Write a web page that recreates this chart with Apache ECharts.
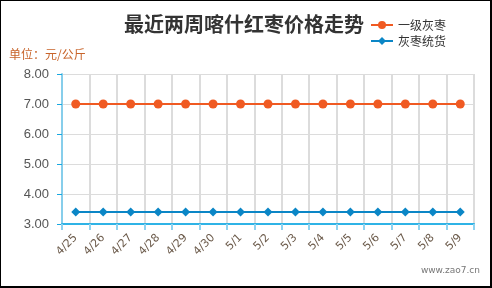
<!DOCTYPE html>
<html><head><meta charset="utf-8">
<script src="https://cdn.jsdelivr.net/npm/echarts@6/dist/echarts.min.js"></script>
<style>
html,body{margin:0;padding:0;background:#fff;}
#wrap{width:492px;height:288px;box-sizing:border-box;border-style:solid;border-color:#000;border-width:1px 2px 2px 1px;position:relative;overflow:hidden;}
#c{position:absolute;left:-1px;top:-1px;width:492px;height:288px;}
</style></head>
<body><div id="wrap"><div id="c"></div></div>
<script>
const categories = ['4/25','4/26','4/27','4/28','4/29','4/30','5/1','5/2','5/3','5/4','5/5','5/6','5/7','5/8','5/9'];
const gradeOne = [7,7,7,7,7,7,7,7,7,7,7,7,7,7,7];
const bulkGoods = [3.4,3.4,3.4,3.4,3.4,3.4,3.4,3.4,3.4,3.4,3.4,3.4,3.4,3.4,3.4];
const seriesNames = ['一级灰枣','灰枣统货'];
const titleText = '最近两周喀什红枣价格走势';
const unitText = '单位：元/公斤';
const watermark = 'www.zao7.cn';

const chart = echarts.init(document.getElementById('c'), null, {renderer:'canvas'});
const font = '"Noto Sans CJK SC","Noto Sans",sans-serif';
chart.setOption({
  animation:false,
  textStyle:{fontFamily:font},
  title:[
    {text:titleText,left:239,textAlign:'center',top:9,textStyle:{fontSize:20,fontWeight:'bold',color:'#333',fontFamily:font}},
    {text:watermark,right:7,top:261,textStyle:{fontSize:9,fontWeight:'normal',color:'#777',fontFamily:'"DejaVu Sans",sans-serif'}}
  ],
  legend:{
    orient:'vertical',left:365,top:14,itemGap:4,itemWidth:22,itemHeight:10,
    textStyle:{fontSize:12,color:'#333',fontFamily:font},
    data:seriesNames
  },
  grid:{left:62,right:18,top:74,bottom:64,containLabel:false},
  xAxis:{
    type:'category',data:categories,boundaryGap:true,
    axisLine:{lineStyle:{color:'#2fb3e6',width:2}},
    axisTick:{show:true,length:6,lineStyle:{color:'#8fd3f0',width:2},alignWithLabel:false},
    axisLabel:{rotate:45,fontSize:11,color:'#6b5a4a',margin:12,interval:0,fontFamily:'"DejaVu Sans",sans-serif'},
    splitLine:{show:true,lineStyle:{color:'#dcdcdc',width:2}}
  },
  yAxis:{
    type:'value',min:3,max:8,interval:1,
    name:unitText,nameLocation:'end',nameGap:14,
    nameTextStyle:{color:'#c8642a',fontSize:12,align:'left',padding:[0,0,0,-53],fontFamily:font},
    axisLine:{show:true,lineStyle:{color:'#87ceeb',width:2}},
    axisTick:{show:true,length:5,lineStyle:{color:'#1aa8e0',width:1}},
    axisLabel:{formatter:v=>v.toFixed(2),fontSize:13,color:'#555',margin:13,fontFamily:'"Liberation Sans",sans-serif'},
    splitLine:{show:true,lineStyle:{color:'#dcdcdc',width:1}}
  },
  series:[
    {name:seriesNames[0],type:'line',data:gradeOne,symbol:'circle',symbolSize:9,
     lineStyle:{color:'#f05a22',width:2},itemStyle:{color:'#f05a22'}},
    {name:seriesNames[1],type:'line',data:bulkGoods,symbol:'diamond',symbolSize:9,
     lineStyle:{color:'#0b86c6',width:2},itemStyle:{color:'#0b86c6'}}
  ]
});
</script></body></html>
